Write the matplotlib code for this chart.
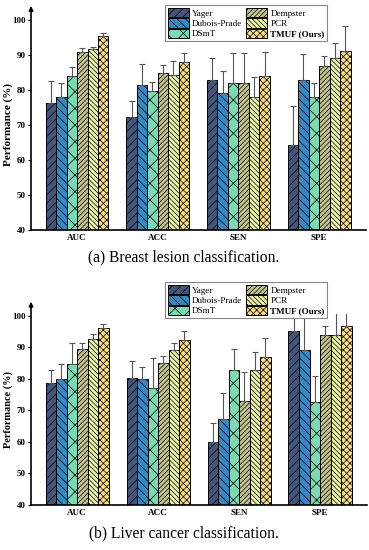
import matplotlib
matplotlib.use('Agg')
import matplotlib.pyplot as plt
import numpy as np

plt.rcParams['font.family'] = ['Liberation Serif', 'DejaVu Serif']
plt.rcParams['hatch.linewidth'] = 0.5

metrics = ['AUC', 'ACC', 'SEN', 'SPE']
methods = ['Yager', 'Dubois-Prade', 'DSmT', 'Dempster', 'PCR', 'TMUF (Ours)']

# rows: methods, cols: metrics
breast_mean = [
    [76.3, 72.2, 82.9, 64.4],
    [78.1, 81.3, 79.1, 82.8],
    [83.9, 79.7, 81.9, 78.0],
    [90.8, 84.9, 81.9, 86.9],
    [91.7, 84.3, 78.1, 89.0],
    [95.4, 88.0, 83.9, 91.0],
]
breast_err = [
    [6.4, 4.6, 6.2, 10.9],
    [4.0, 6.0, 6.4, 7.4],
    [2.8, 2.6, 8.6, 3.9],
    [1.2, 2.3, 8.6, 2.8],
    [0.5, 4.0, 5.5, 4.5],
    [0.8, 2.5, 6.9, 7.4],
]
liver_mean = [
    [78.7, 80.1, 60.0, 95.1],
    [79.8, 79.8, 67.3, 89.1],
    [84.6, 77.0, 82.9, 72.5],
    [89.3, 84.9, 72.9, 93.8],
    [92.5, 89.0, 82.9, 93.8],
    [96.1, 92.4, 86.8, 96.6],
]
liver_err = [
    [4.0, 5.5, 5.9, 6.0],
    [4.8, 4.0, 8.1, 12.0],
    [6.8, 9.6, 6.4, 8.5],
    [1.9, 2.2, 9.3, 3.0],
    [1.8, 2.3, 5.5, 7.0],
    [1.4, 2.6, 6.1, 5.0],
]

colors = ['#45557a', '#3a88c0', '#7fd8b2', '#c4c493', '#eef6ae', '#fbdc8c']
hatches = ['////', '\\\\\\\\', 'xx', '///////', '\\\\\\\\\\\\\\', 'xxxxx']
captions = ['(a) Breast lesion classification.', '(b) Liver cancer classification.']

W, H = 369, 550
fig = plt.figure(figsize=(W / 100, H / 100), dpi=100)

panels = [
    dict(mean=breast_mean, err=breast_err, rect=[31 / W, (H - 230) / H, 335 / W, 211.8 / H],
         arrow=1.058, leg_top=1 - 5 / H, cap_y=1 - 257 / H, lab_fs=8.0),
    dict(mean=liver_mean, err=liver_err, rect=[31 / W, (H - 505) / H, 336 / W, 190.9 / H],
         arrow=1.065, leg_top=1 - 282 / H, cap_y=1 - 533 / H, lab_fs=7.4),
]

x = np.arange(len(metrics))
w = 0.13
for p, cap in zip(panels, captions):
    ax = fig.add_axes(p['rect'])
    mean = np.array(p['mean'])
    err = np.array(p['err'])
    handles = []
    for i, m in enumerate(methods):
        pos = x + (i - 2.5) * w
        b = ax.bar(pos, mean[i], width=w, color=colors[i], edgecolor='black',
                   linewidth=0.7, hatch=hatches[i], label=m, zorder=2)
        handles.append(b)
        ax.errorbar(pos, mean[i], yerr=[np.zeros(len(metrics)), err[i]], fmt='none',
                    ecolor='#555555', elinewidth=0.8, capsize=2, capthick=0.8, zorder=3)
    ax.set_ylim(40, 100.5)
    ax.set_xlim(-0.57, 3.58)
    ax.set_xticks(x)
    ax.set_xticklabels(metrics, fontsize=6.5, fontweight='bold')
    ax.set_yticks(np.arange(40, 101, 10))
    ax.set_yticklabels([str(v) for v in range(40, 101, 10)], fontsize=6.5, fontweight='bold')
    ax.tick_params(axis='x', length=0, pad=3)
    ax.tick_params(axis='y', length=2, width=0.8, pad=2)
    for s in ['top', 'right', 'left']:
        ax.spines[s].set_visible(False)
    ax.spines['bottom'].set_linewidth(1.2)
    ax.annotate('', xy=(0, p['arrow']), xytext=(0, 0), xycoords='axes fraction',
                textcoords='axes fraction', annotation_clip=False,
                arrowprops=dict(arrowstyle='-|>', lw=1.2, color='black',
                                mutation_scale=6, shrinkA=0, shrinkB=0))
    r = p['rect']
    fig.text(8.5 / W, r[1] + r[3] / 2, 'Performance (%)', rotation=90, ha='center',
             va='center', fontsize=p['lab_fs'], fontweight='bold')
    leg = fig.legend(handles=handles, labels=methods,
                     ncol=2, loc='upper left', bbox_to_anchor=(165 / W, p['leg_top']),
                     bbox_transform=fig.transFigure, fontsize=6.6, frameon=True,
                     fancybox=False, edgecolor='#888888', framealpha=1,
                     handlelength=2.3, handleheight=1.25, handletextpad=0.35,
                     labelspacing=0.05, columnspacing=0.4, borderpad=0.3, borderaxespad=0)
    leg.get_frame().set_linewidth(0.8)
    for t in leg.get_texts():
        if t.get_text().startswith('TMUF'):
            t.set_fontweight('bold')
    fig.text(0.498, p['cap_y'], cap, ha='center', va='center', fontsize=11.2)

fig.savefig('out.png', dpi=100)
